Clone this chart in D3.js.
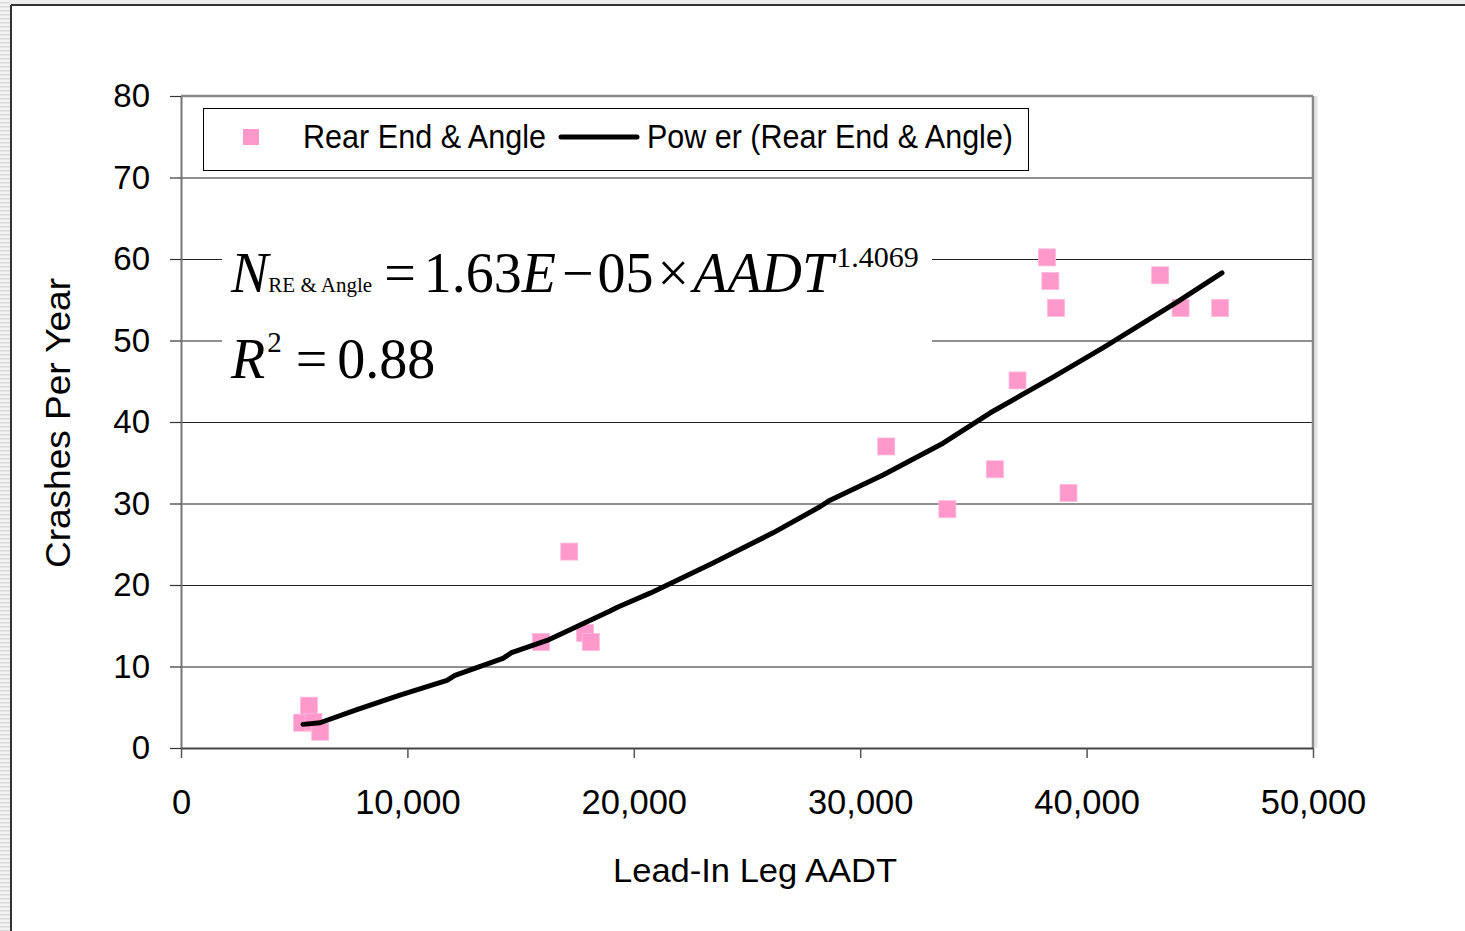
<!DOCTYPE html>
<html>
<head>
<meta charset="utf-8">
<script src="https://cdn.jsdelivr.net/npm/d3@7"></script>
<style>
  html, body { margin: 0; padding: 0; background: #ffffff; }
  svg { display: block; }
  .tick text { font-family: "Liberation Sans", Arial, sans-serif; }
</style>
</head>
<body>
<div id="chart"></div>
<script>
// Observed crashes per year vs. lead-in leg AADT
const aadt    = [5350, 5650, 5850, 6150, 15900, 17150, 17850, 18100, 31150, 33850, 35950, 36950, 38250, 38400, 38650, 39200, 43250, 44150, 45900];
const crashes = [3.1, 5.2, 3.2, 2.0, 13.0, 24.1, 14.1, 13.0, 37.0, 29.3, 34.2, 45.1, 60.2, 57.3, 54.0, 31.3, 58.0, 54.0, 54.0];

// Power trend line
const trendAadt    = [5390, 6140, 7770, 9670, 11750, 12100, 14220, 14600, 16170, 18950, 19300, 20720, 23500, 26150, 28220, 28600, 31010, 33660, 35730, 38520, 40720, 43990, 45980];
const trendCrashes = [2.9, 3.1, 4.7, 6.5, 8.3, 8.9, 11.0, 11.7, 13.2, 16.8, 17.3, 19.0, 22.7, 26.4, 29.6, 30.3, 33.5, 37.4, 41.1, 45.5, 49.1, 54.7, 58.3];

const xTicks = [0, 10000, 20000, 30000, 40000, 50000];
const yTicks = [0, 10, 20, 30, 40, 50, 60, 70, 80];

const W = 1465, H = 931;
const margin = { top: 96, right: 152, bottom: 183, left: 181 };
const width = W - margin.left - margin.right;   // 1132
const height = H - margin.top - margin.bottom;  // 652

const pink = '#ff99cc';
const sans = '"Liberation Sans", Arial, sans-serif';
const serif = '"Liberation Serif", "Times New Roman", serif';

const svg = d3.select('#chart').append('svg')
  .attr('width', W)
  .attr('height', H);

// Striped strip on the left edge and grey top strip
const defs = svg.append('defs');
const stripe = defs.append('pattern')
  .attr('id', 'stripes')
  .attr('width', 10).attr('height', 4)
  .attr('patternUnits', 'userSpaceOnUse');
stripe.append('rect').attr('width', 10).attr('height', 4).attr('fill', '#f4f4f4');
stripe.append('rect').attr('y', 2).attr('width', 10).attr('height', 1.5).attr('fill', '#d8d8d8');

svg.append('rect').attr('x', 0).attr('y', 0).attr('width', 10).attr('height', H).attr('fill', 'url(#stripes)');
svg.append('rect').attr('x', 10).attr('y', 0).attr('width', W - 10).attr('height', 4).attr('fill', '#ececec');

// Outer chart frame
svg.append('line').attr('x1', 11).attr('x2', W).attr('y1', 5).attr('y2', 5)
  .attr('stroke', '#333').attr('stroke-width', 2);
svg.append('line').attr('x1', 11).attr('x2', 11).attr('y1', 5).attr('y2', H)
  .attr('stroke', '#333').attr('stroke-width', 2);

const g = svg.append('g').attr('transform', `translate(${margin.left},${margin.top})`);

const x = d3.scaleLinear().domain([0, 50000]).range([0, width]);
const y = d3.scaleLinear().domain([0, 80]).range([height, 0]);

// Horizontal gridlines
g.append('g')
  .attr('class', 'grid')
  .call(d3.axisLeft(y).tickValues(yTicks.slice(1, -1)).tickSize(-width).tickFormat(''))
  .call(s => s.select('.domain').remove())
  .selectAll('line')
  .attr('stroke', '#222')
  .attr('stroke-width', 1.2);

// Plot area top and right border (grey)
g.append('rect')
  .attr('x', width + 1.5).attr('y', 0).attr('width', 3).attr('height', height)
  .attr('fill', '#e4e4e4');
g.append('line').attr('x1', 0).attr('x2', width).attr('y1', 0).attr('y2', 0)
  .attr('stroke', '#888').attr('stroke-width', 2.5);
g.append('line').attr('x1', width).attr('x2', width).attr('y1', 0).attr('y2', height)
  .attr('stroke', '#888').attr('stroke-width', 2.5);

// Y axis
const yAxis = g.append('g')
  .call(d3.axisLeft(y).tickValues(yTicks).tickSize(11).tickPadding(20).tickSizeOuter(0));
yAxis.select('.domain').attr('stroke', '#777').attr('stroke-width', 2);
yAxis.selectAll('.tick line').attr('stroke', '#333').attr('stroke-width', 1.2);
yAxis.selectAll('.tick text')
  .attr('font-size', 33)
  .attr('fill', '#000')
  .attr('dy', '0.33em');

// X axis
const xAxis = g.append('g')
  .attr('transform', `translate(0,${height})`)
  .call(d3.axisBottom(x).tickValues(xTicks).tickSize(10).tickPadding(32).tickSizeOuter(0)
    .tickFormat(d3.format(',')));
xAxis.select('.domain').attr('stroke', '#444').attr('stroke-width', 2);
xAxis.selectAll('.tick line').attr('stroke', '#555').attr('stroke-width', 1.5);
xAxis.selectAll('.tick text')
  .attr('font-size', 34.5)
  .attr('fill', '#000');

// Axis titles
svg.append('text')
  .attr('transform', `translate(70,${margin.top + 327}) rotate(-90)`)
  .attr('text-anchor', 'middle')
  .attr('font-family', sans)
  .attr('font-size', 35)
  .attr('textLength', 290).attr('lengthAdjust', 'spacingAndGlyphs')
  .text('Crashes Per Year');

svg.append('text')
  .attr('x', 755)
  .attr('y', 882)
  .attr('text-anchor', 'middle')
  .attr('font-family', sans)
  .attr('font-size', 34)
  .attr('textLength', 284).attr('lengthAdjust', 'spacingAndGlyphs')
  .text('Lead-In Leg AADT');

// White box behind the equation
svg.append('rect')
  .attr('x', 222).attr('y', 238).attr('width', 710).attr('height', 155)
  .attr('fill', '#fff');

// Equation
const eq = svg.append('text')
  .attr('x', 231)
  .attr('y', 292)
  .attr('font-family', serif)
  .attr('font-size', 56);
eq.append('tspan').attr('font-style', 'italic').text('N');
eq.append('tspan').attr('font-size', 21).attr('dx', 0).text('RE & Angle');
eq.append('tspan').attr('dx', 12).text('=');
eq.append('tspan').attr('dx', 8).text('1.63');
eq.append('tspan').attr('font-style', 'italic').text('E');
eq.append('tspan').attr('dx', 6).text('\u2212');
eq.append('tspan').attr('dx', 4).text('05');
eq.append('tspan').attr('dx', 4).text('\u00d7');
eq.append('tspan').attr('dx', 4).attr('font-style', 'italic').text('AADT');
eq.append('tspan').attr('font-size', 30).attr('dx', 3).attr('dy', -25).text('1.4069');

const r2 = svg.append('text')
  .attr('x', 231)
  .attr('y', 378)
  .attr('font-family', serif)
  .attr('font-size', 56);
r2.append('tspan').attr('font-style', 'italic').text('R');
r2.append('tspan').attr('font-size', 29).attr('dy', -26).attr('dx', 2).text('2');
r2.append('tspan').attr('dy', 26).attr('dx', 14).text('=');
r2.append('tspan').attr('dx', 10).text('0.88');

// Data points
g.append('g')
  .selectAll('rect')
  .data(aadt.map((a, i) => ({ a, c: crashes[i] })))
  .join('rect')
  .attr('x', d => x(d.a) - 8.5)
  .attr('y', d => y(d.c) - 8.5)
  .attr('width', 17)
  .attr('height', 17)
  .attr('fill', pink)
  .attr('stroke', '#ffb8dc')
  .attr('stroke-width', 0.8);

// Trend line
const trend = trendAadt.map((a, i) => [a, trendCrashes[i]]);
g.append('path')
  .datum(trend)
  .attr('fill', 'none')
  .attr('stroke', '#000')
  .attr('stroke-width', 5)
  .attr('stroke-linecap', 'round')
  .attr('stroke-linejoin', 'round')
  .attr('d', d3.line().x(d => x(d[0])).y(d => y(d[1])));

// Legend
const legend = svg.append('g');
legend.append('rect')
  .attr('x', 203.5).attr('y', 108.5).attr('width', 825).attr('height', 62)
  .attr('fill', '#fff').attr('stroke', '#000').attr('stroke-width', 1);
legend.append('rect')
  .attr('x', 243).attr('y', 129).attr('width', 16).attr('height', 16)
  .attr('fill', pink);
legend.append('text')
  .attr('x', 303).attr('y', 148)
  .attr('font-family', sans).attr('font-size', 33)
  .attr('textLength', 243).attr('lengthAdjust', 'spacingAndGlyphs')
  .text('Rear End & Angle');
legend.append('line')
  .attr('x1', 561).attr('x2', 637).attr('y1', 137).attr('y2', 137)
  .attr('stroke', '#000').attr('stroke-width', 5).attr('stroke-linecap', 'round');
legend.append('text')
  .attr('x', 647).attr('y', 148)
  .attr('font-family', sans).attr('font-size', 33)
  .attr('textLength', 366).attr('lengthAdjust', 'spacingAndGlyphs')
  .text('Pow er (Rear End & Angle)');
</script>
</body>
</html>
